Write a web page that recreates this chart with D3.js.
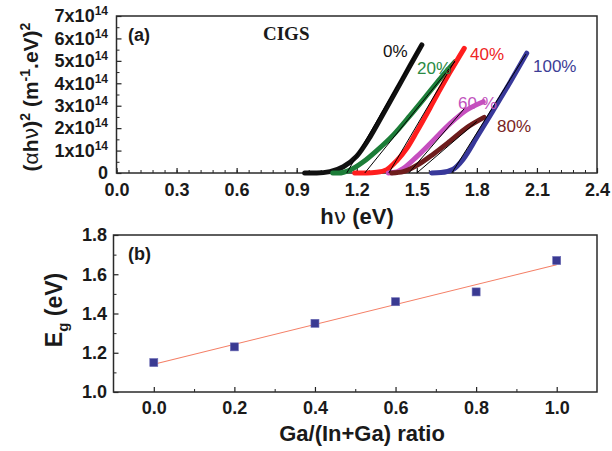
<!DOCTYPE html>
<html>
<head>
<meta charset="utf-8">
<script src="https://cdn.jsdelivr.net/npm/d3@7"></script>
<style>
  html, body { margin: 0; padding: 0; background: #fff; }
  svg { display: block; font-family: "Liberation Sans", Arial, sans-serif; }
</style>
</head>
<body>
<svg id="chart" width="612" height="451"></svg>
<script>
// ---- Panel (a): Tauc plot, (αhν)² in units of 1e14 (m⁻¹·eV)² vs photon energy (eV)
const series0   = [[0.94,0],[1.00,0.0],[1.066,0.06],[1.133,0.28],[1.20,0.75],[1.266,1.60],[1.333,2.65],[1.40,3.72],[1.466,4.78],[1.525,5.71]];
const series20  = [[1.08,0],[1.11,0.0],[1.166,0.13],[1.233,0.50],[1.30,1.00],[1.383,1.70],[1.466,2.56],[1.549,3.46],[1.616,4.20],[1.691,4.96]];
const series40  = [[1.19,0],[1.25,0.0],[1.30,0.03],[1.35,0.15],[1.40,0.55],[1.45,1.10],[1.50,1.85],[1.566,2.90],[1.616,3.72],[1.666,4.50],[1.737,5.56]];
const series60  = [[1.358,0],[1.40,0.05],[1.433,0.21],[1.50,0.73],[1.582,1.45],[1.666,2.20],[1.749,2.81],[1.832,3.18]];
const series80  = [[1.375,0],[1.433,0.06],[1.50,0.34],[1.582,0.84],[1.666,1.42],[1.749,2.02],[1.836,2.48]];
const series100 = [[1.574,0],[1.62,0.02],[1.682,0.17],[1.732,0.62],[1.799,1.58],[1.882,2.80],[1.966,4.05],[2.049,5.34]];

// Linear extrapolations to the energy axis: [start, end] points
const fit0   = [[1.15,0],[1.52,5.70]];
const fit20  = [[1.24,0],[1.69,4.96]];
const fit40  = [[1.36,0],[1.69,5.00]];
const fit60  = [[1.46,0],[1.74,2.90]];
const fit80  = [[1.50,0],[1.80,2.30]];
const fit100 = [[1.675,0],[2.045,5.30]];

const seriesNames  = ["0%", "20%", "40%", "60 %", "80%", "100%"];
const seriesColors = ["#111111", "#1c7d38", "#ff1e1e", "#c64fbf", "#6e1c1c", "#38389a"];
const labelColors  = ["#111111", "#2a8a44", "#ee2424", "#c152bd", "#7a2424", "#3d3d96"];

const xTicksA = [0.0, 0.3, 0.6, 0.9, 1.2, 1.5, 1.8, 2.1, 2.4];
const yTicksA = [0, 1, 2, 3, 4, 5, 6, 7];

// ---- Panel (b): band gap vs Ga/(In+Ga) ratio
const ratio = [0.0, 0.2, 0.4, 0.6, 0.8, 1.0];
const gap   = [1.15, 1.23, 1.35, 1.46, 1.51, 1.67];
const xTicksB = [0.0, 0.2, 0.4, 0.6, 0.8, 1.0];
const yTicksB = [1.0, 1.2, 1.4, 1.6, 1.8];

const SANS = "'Liberation Sans', Arial, sans-serif";
const SERIF = "'Liberation Serif', 'Times New Roman', serif";
const GREEK = "'DejaVu Sans', sans-serif";
const INK = "#1a1a1a";

const svg = d3.select("#chart");

function styleTickText(sel) {
  sel.attr("font-size", 18).attr("font-weight", "bold").attr("fill", INK).style("font-family", SANS);
}

// ================= Panel (a) =================
const xa = d3.scaleLinear().domain([0, 2.4]).range([116.5, 597]);
const ya = d3.scaleLinear().domain([0, 7]).range([173, 16]);

const ga = svg.append("g");

// minor ticks
ga.append("g").attr("transform", "translate(0,173)")
  .call(d3.axisBottom(xa).tickValues(d3.range(0, 2.4001, 0.06)).tickSize(-3).tickFormat(""))
  .call(g => g.select(".domain").remove())
  .selectAll("line").attr("stroke", "#222").attr("stroke-width", 1);
ga.append("g").attr("transform", "translate(116.5,0)")
  .call(d3.axisLeft(ya).tickValues(d3.range(0.5, 7, 1)).tickSize(-3).tickFormat(""))
  .call(g => g.select(".domain").remove())
  .selectAll("line").attr("stroke", "#222").attr("stroke-width", 1);

// major ticks + labels
const axAx = ga.append("g").attr("transform", "translate(0,173)")
  .call(d3.axisBottom(xa).tickValues(xTicksA).tickSize(-5).tickPadding(10).tickFormat(d3.format(".1f")));
axAx.select(".domain").remove();
axAx.selectAll("line").attr("stroke", "#222").attr("stroke-width", 1.2);
styleTickText(axAx.selectAll("text"));

const ayAx = ga.append("g").attr("transform", "translate(116.5,0)")
  .call(d3.axisLeft(ya).tickValues(yTicksA).tickSize(-5).tickPadding(8.5));
ayAx.select(".domain").remove();
ayAx.selectAll("line").attr("stroke", "#222").attr("stroke-width", 1.2);
ayAx.selectAll("text").each(function(d) {
  const t = d3.select(this).text("");
  styleTickText(t);
  if (d === 0) { t.text("0"); return; }
  t.append("tspan").text(d + "x10");
  t.append("tspan").attr("font-size", 12).attr("dy", -7).text("14");
});

// frame
ga.append("rect").attr("x", 116.5).attr("y", 16).attr("width", 597 - 116.5).attr("height", 173 - 16)
  .attr("fill", "none").attr("stroke", "#2a2a2a").attr("stroke-width", 1.5);

// curves
const lineA = d3.line().x(d => xa(d[0])).y(d => ya(d[1])).curve(d3.curveMonotoneX);
const curves = [series0, series20, series40, series60, series80, series100];
curves.forEach((s, i) => {
  ga.append("path").datum(s).attr("d", lineA)
    .attr("fill", "none").attr("stroke", seriesColors[i])
    .attr("stroke-width", 5).attr("stroke-linecap", "round").attr("stroke-linejoin", "round");
});

// extrapolation lines
const fits = [fit0, fit20, fit40, fit60, fit80, fit100];
const straight = d3.line().x(d => xa(d[0])).y(d => ya(d[1]));
fits.forEach(f => {
  ga.append("path").datum(f).attr("d", straight)
    .attr("fill", "none").attr("stroke", "#000").attr("stroke-width", 1);
});

// series labels
const labelPos = [[383, 57], [417, 73.5], [470, 59.5], [458, 108.5], [497, 132], [533, 72]];
seriesNames.forEach((n, i) => {
  ga.append("text").attr("x", labelPos[i][0]).attr("y", labelPos[i][1])
    .attr("font-size", 17).attr("fill", labelColors[i]).style("font-family", SANS).text(n);
});

ga.append("text").attr("x", 128).attr("y", 41).attr("font-size", 18).attr("font-weight", "bold")
  .attr("fill", INK).style("font-family", SANS).text("(a)");
ga.append("text").attr("x", 263).attr("y", 39.5).attr("font-size", 19).attr("font-weight", "bold")
  .style("font-family", SERIF).attr("fill", INK).text("CIGS");

// axis titles (a)
const xtA = ga.append("text").attr("x", 357).attr("y", 224).attr("text-anchor", "middle")
  .attr("font-size", 22).attr("font-weight", "bold").attr("fill", INK).style("font-family", SANS);
xtA.append("tspan").text("h");
xtA.append("tspan").attr("font-weight", "normal").style("font-family", GREEK).text("ν");
xtA.append("tspan").text(" (eV)");

const ytA = ga.append("text").attr("transform", "translate(38,97) rotate(-90)").attr("text-anchor", "middle")
  .attr("font-size", 21).attr("font-weight", "bold").attr("fill", INK).style("font-family", SANS);
ytA.append("tspan").text("(");
ytA.append("tspan").attr("font-weight", "normal").text("α");
ytA.append("tspan").text("h");
ytA.append("tspan").attr("font-weight", "normal").style("font-family", GREEK).text("ν");
ytA.append("tspan").text(")");
ytA.append("tspan").attr("font-size", 14).attr("dy", -8).text("2");
ytA.append("tspan").attr("dy", 8).text(" (m");
ytA.append("tspan").attr("font-size", 14).attr("dy", -8).text("-1");
ytA.append("tspan").attr("dy", 8).text(".eV)");
ytA.append("tspan").attr("font-size", 14).attr("dy", -8).text("2");

// ================= Panel (b) =================
const xb = d3.scaleLinear().domain([-0.1, 1.1]).range([113.5, 597]);
const yb = d3.scaleLinear().domain([1.0, 1.8]).range([392, 235]);
const gb = svg.append("g");

gb.append("g").attr("transform", "translate(0,392)")
  .call(d3.axisBottom(xb).tickValues([0.1, 0.3, 0.5, 0.7, 0.9]).tickSize(-3).tickFormat(""))
  .call(g => g.select(".domain").remove())
  .selectAll("line").attr("stroke", "#222").attr("stroke-width", 1);
gb.append("g").attr("transform", "translate(113.5,0)")
  .call(d3.axisLeft(yb).tickValues([1.1, 1.3, 1.5, 1.7]).tickSize(-3).tickFormat(""))
  .call(g => g.select(".domain").remove())
  .selectAll("line").attr("stroke", "#222").attr("stroke-width", 1);

const bxAx = gb.append("g").attr("transform", "translate(0,392)")
  .call(d3.axisBottom(xb).tickValues(xTicksB).tickSize(-5).tickPadding(9).tickFormat(d3.format(".1f")));
bxAx.select(".domain").remove();
bxAx.selectAll("line").attr("stroke", "#222").attr("stroke-width", 1.2);
styleTickText(bxAx.selectAll("text"));

const byAx = gb.append("g").attr("transform", "translate(113.5,0)")
  .call(d3.axisLeft(yb).tickValues(yTicksB).tickSize(-5).tickPadding(6.5).tickFormat(d3.format(".1f")));
byAx.select(".domain").remove();
byAx.selectAll("line").attr("stroke", "#222").attr("stroke-width", 1.2);
styleTickText(byAx.selectAll("text"));

gb.append("rect").attr("x", 113.5).attr("y", 235).attr("width", 597 - 113.5).attr("height", 392 - 235)
  .attr("fill", "none").attr("stroke", "#2a2a2a").attr("stroke-width", 1.5);

// least-squares linear fit of Eg vs ratio
const mx = d3.mean(ratio), my = d3.mean(gap);
const slope = d3.sum(ratio, (x, i) => (x - mx) * (gap[i] - my)) / d3.sum(ratio, x => (x - mx) ** 2);
const icpt = my - slope * mx;
const xr = d3.extent(ratio);
gb.append("line")
  .attr("x1", xb(xr[0])).attr("y1", yb(icpt + slope * xr[0]))
  .attr("x2", xb(xr[1])).attr("y2", yb(icpt + slope * xr[1]))
  .attr("stroke", "#f47f66").attr("stroke-width", 1.1);

gb.selectAll("rect.pt").data(ratio).enter().append("rect").attr("class", "pt")
  .attr("x", (d) => xb(d) - 4).attr("y", (d, i) => yb(gap[i]) - 4)
  .attr("width", 8).attr("height", 8)
  .attr("fill", "#3a3a92").attr("stroke", "#6a6ab4").attr("stroke-width", 0.6);

gb.append("text").attr("x", 128).attr("y", 260).attr("font-size", 18).attr("font-weight", "bold")
  .attr("fill", INK).style("font-family", SANS).text("(b)");

gb.append("text").attr("x", 362).attr("y", 441).attr("text-anchor", "middle")
  .attr("font-size", 22).attr("font-weight", "bold").attr("fill", INK).style("font-family", SANS)
  .text("Ga/(In+Ga) ratio");

const ytB = gb.append("text").attr("transform", "translate(62,310) rotate(-90)").attr("text-anchor", "middle")
  .attr("font-size", 23).attr("font-weight", "bold").attr("fill", INK).style("font-family", SANS);
ytB.append("tspan").text("E");
ytB.append("tspan").attr("font-size", 15).attr("dy", 6).text("g");
ytB.append("tspan").attr("dy", -6).text(" (eV)");
</script>
</body>
</html>
